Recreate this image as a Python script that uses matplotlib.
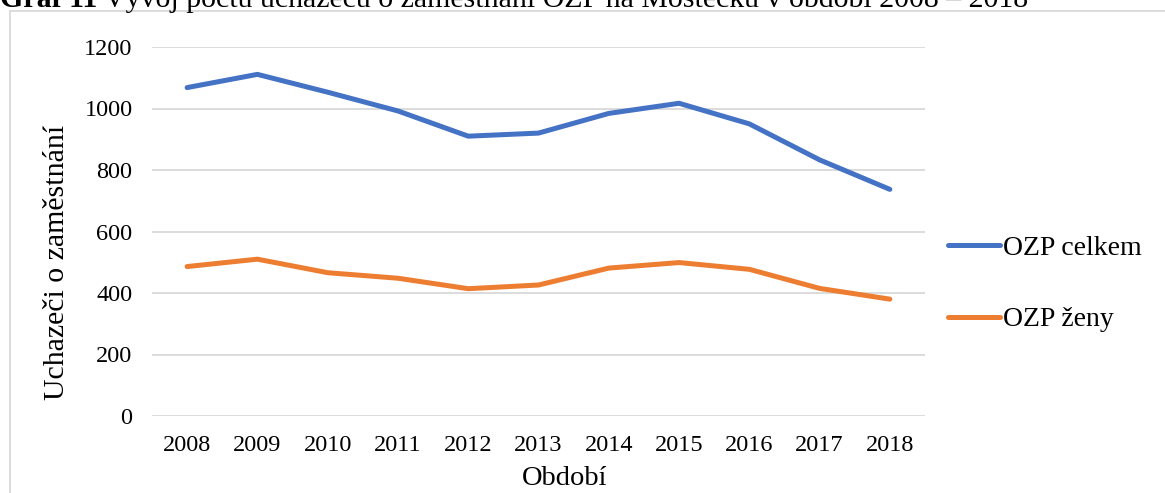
import matplotlib.pyplot as plt
from matplotlib.patches import Rectangle

# hodnoty
roky = ["2008", "2009", "2010", "2011", "2012", "2013", "2014", "2015", "2016", "2017", "2018"]
ozp_celkem = [1068, 1111, 1053, 992, 910, 920, 984, 1017, 950, 833, 737]
ozp_zeny = [486, 510, 466, 448, 414, 426, 481, 499, 477, 415, 380]

plt.rcParams['font.family'] = ['Liberation Serif', 'DejaVu Serif']

W, H = 1165, 493
fig = plt.figure(figsize=(W / 100, H / 100), dpi=100)

# rámeček grafu (uříznutý vpravo a dole)
fig.patches.append(Rectangle((10 / W, -0.1), 1.2, 1 - 11 / H + 0.1, transform=fig.transFigure,
                             fill=False, edgecolor='#D9D9D9', linewidth=1.3))

# nadpis je nahoře useknutý
t1 = fig.text(0.0, 1 - 13 / H, "Graf 11", fontsize=21.5, fontweight='bold', va='bottom', ha='left')
fig.add_artist(plt.Annotation(" Vývoj počtu uchazečů o zaměstnání OZP na Mostecku v období 2008 – 2018",
                              xy=(1, 0), xycoords=t1, va='bottom', ha='left', fontsize=21.5))

ax = fig.add_axes([152 / W, 1 - 416 / H, (925 - 152) / W, (416 - 47) / H])
x = range(len(roky))
ax.plot(x, ozp_celkem, color='#4472C4', linewidth=3.6, solid_capstyle='round', label='OZP celkem')
ax.plot(x, ozp_zeny, color='#ED7D31', linewidth=3.6, solid_capstyle='round', label='OZP ženy')

ax.set_xlim(-0.5, len(roky) - 0.5)
ax.set_ylim(0, 1200)
ax.set_yticks(range(0, 1201, 200))
ax.set_xticks(list(x))
ax.set_xticklabels(roky)
ax.grid(axis='y', color='#D9D9D9', linewidth=1.3)
ax.set_axisbelow(True)
for s in ax.spines.values():
    s.set_visible(False)
ax.tick_params(axis='both', length=0, labelsize=17.5)
ax.tick_params(axis='y', pad=14)
ax.tick_params(axis='x', pad=14)

ax.set_xlabel("Období", fontsize=20.5, labelpad=7)
ax.set_ylabel("Uchazeči o zaměstnání", fontsize=21.5, labelpad=10)
ax.xaxis.label.set_x(0.534)
ax.yaxis.label.set_y(0.417)

fig.legend(loc='center left', bbox_to_anchor=(948 / W, 1 - 284 / H), frameon=False,
           fontsize=20, handlelength=1.87, handletextpad=0.1, labelspacing=1.65,
           borderpad=0, borderaxespad=0)

fig.savefig("out.png", dpi=100)
